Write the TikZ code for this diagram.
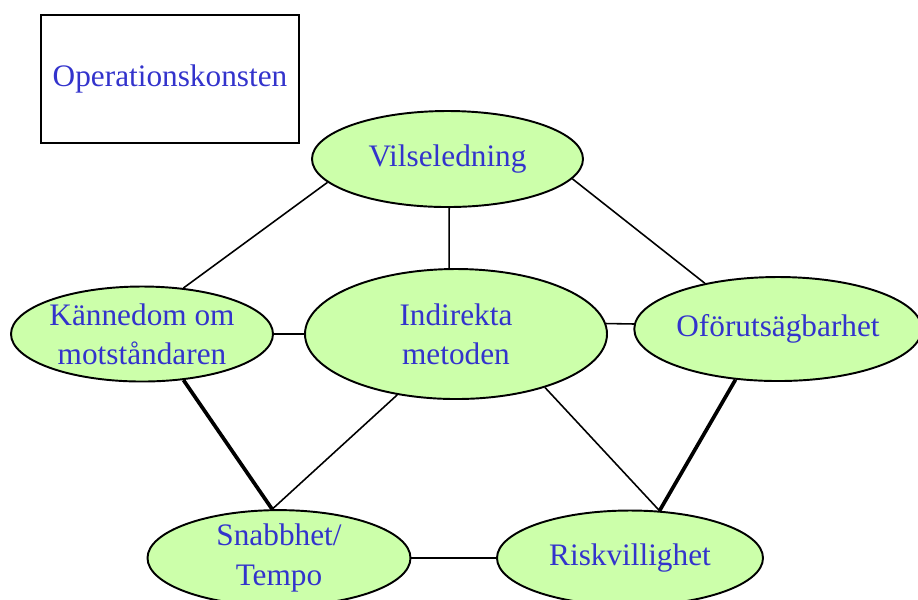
\documentclass[tikz,border=0pt]{standalone}
\usepackage{fontspec}
\setmainfont{Liberation Serif}
\usepackage{tikz}
\usetikzlibrary{shapes.geometric}
\definecolor{textblue}{RGB}{51,51,204}
\definecolor{palegreen}{RGB}{204,255,170}

\begin{document}
\begin{tikzpicture}[font=\fontsize{8.9}{11.2}\selectfont,
   idea/.style={ellipse,draw,line width=0.55pt,fill=palegreen,text=textblue,align=center,inner sep=0pt},
   link/.style={line width=0.45pt},
   strong/.style={line width=1.05pt}]
   \useasboundingbox (0,0) rectangle (9.18,-5.99);
   \draw (1.70,-0.79) node[draw,line width=0.45pt,minimum width=2.54cm,minimum height=1.28cm,text=textblue] (konst) {Operationskonsten};
  \draw (4.475,-1.59) node[idea,minimum width=2.71cm,minimum height=0.96cm] (vils) {Vilseledning};
    \draw (1.42,-3.34) node[idea,minimum width=2.62cm,minimum height=0.95cm] (kann) {Kännedom om\\motståndaren};
    \draw (4.56,-3.34) node[idea,minimum width=3.02cm,minimum height=1.30cm] (indir) {Indirekta\\metoden};
    \draw (7.78,-3.29) node[idea,minimum width=2.80cm,minimum height=1.04cm] (ofor) {Oförutsägbarhet};
      \draw (2.79,-5.58) node[idea,minimum width=2.63cm,minimum height=0.95cm] (snab) {Snabbhet/\\Tempo};
      \draw (6.30,-5.58) node[idea,minimum width=2.66cm,minimum height=0.95cm] (risk) {Riskvillighet};

       \path[-,link] (vils.191) edge (kann.48);
       \path[-,link] (vils.272) edge (indir.96);
       \path[-,link] (vils.351) edge (ofor.148);
       \path[-,link] (kann.east) edge (indir.west);
       \path[-,link] (indir.4) edge (ofor.178);
	    \path[-,strong] (kann.312) edge (snab.98);
	    \path[-,link] (indir.226) edge (snab.98);
	    \path[-,link] (indir.329) edge (risk.58);
	    \path[-,strong] (ofor.230) edge (risk.58);
	    \path[-,link] (snab.east) edge (risk.west);

\end{tikzpicture}
\end{document}
